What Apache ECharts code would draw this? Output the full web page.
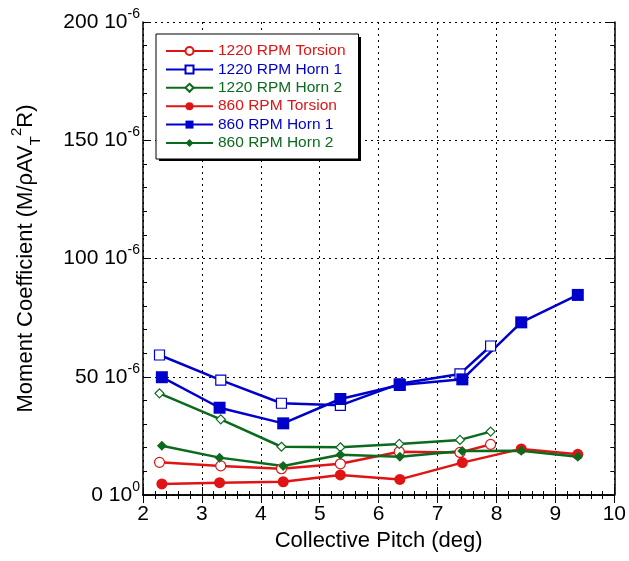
<!DOCTYPE html>
<html lang="en">

<head>
    <meta charset="UTF-8">
    <title>Moment Coefficient</title>
    <script type="text/javascript" src="https://cdn.jsdelivr.net/npm/echarts@6/dist/echarts.min.js"></script>
    <style>
        body {
            margin: 0;
            background: #fff;
        }

        .zhu {
            height: 561px;
            width: 629px;
        }
    </style>
</head>

<body>
    <div class="zhu"></div>
</body>
<script>
    // collective pitch (deg)
    let x1220 = [2.28, 3.32, 4.35, 5.35, 6.35, 7.38, 7.9]
    let x860 = [2.32, 3.3, 4.38, 5.35, 6.36, 7.42, 8.42, 9.38]

    // moment coefficient, units of 1e-6
    let torsion1220 = [13.8, 12.3, 11.1, 13.2, 18.3, 18.0, 21.4]
    let horn1_1220 = [59.2, 48.6, 38.8, 37.9, 47.0, 51.2, 63.0]
    let horn2_1220 = [43.0, 32.0, 20.4, 20.2, 21.6, 23.3, 26.8]
    let torsion860 = [4.7, 5.2, 5.6, 8.5, 6.6, 13.7, 19.5, 17.2]
    let horn1_860 = [49.8, 36.9, 30.3, 40.6, 46.5, 48.9, 73.0, 84.6]
    let horn2_860 = [20.8, 15.8, 12.3, 17.0, 16.2, 18.6, 18.7, 16.2]

    let yTicks = [0, 50, 100, 150, 200]
    let yExp = ['0', '-6', '-6', '-6', '-6']

    const RED = '#e01414'
    const BLUE = '#0000cc'
    const GREEN = '#0c6a1e'
    const FONT = 'Liberation Sans, Arial, sans-serif'

    function pairs(xs, ys) {
        return xs.map((x, i) => [x, ys[i]])
    }

    function mkSeries(name, xs, ys, color, symbol, size, hollow) {
        return {
            name: name,
            type: 'line',
            data: pairs(xs, ys),
            symbol: symbol,
            symbolSize: size,
            lineStyle: { color: color, width: 2.5 },
            itemStyle: {
                color: hollow ? '#fff' : color,
                borderColor: color,
                borderWidth: hollow ? 1.2 : 0
            }
        }
    }

    let mCharts = echarts.init(document.querySelector('.zhu'))

    let tickCommon = {
        axisLine: { show: true, lineStyle: { color: '#000', width: 1.5 } },
        axisTick: { show: true, inside: true, length: 8, lineStyle: { color: '#000', width: 1 } },
        minorTick: { show: true, splitNumber: 5, length: 4, lineStyle: { color: '#000', width: 1 } }
    }

    let option = {
        animation: false,
        backgroundColor: '#fff',
        grid: { left: 143, right: 12, top: 22, bottom: 66 },
        // solid drop shadow behind the legend box
        graphic: [{
            type: 'rect',
            left: 159,
            top: 37,
            shape: { width: 202, height: 124 },
            style: { fill: '#000' },
            z: 3
        }],
        legend: {
            z: 10,
            orient: 'vertical',
            left: 156,
            top: 34,
            padding: [9, 13, 8, 9],
            itemWidth: 47,
            itemHeight: 10,
            itemGap: 2.4,
            backgroundColor: '#fff',
            borderColor: '#000',
            borderWidth: 1,
            textStyle: { fontFamily: FONT, fontSize: 15.5 },
            data: [
                { name: '1220 RPM Torsion', textStyle: { color: RED } },
                { name: '1220 RPM Horn 1', textStyle: { color: BLUE } },
                { name: '1220 RPM Horn 2', textStyle: { color: GREEN } },
                { name: '860 RPM Torsion', textStyle: { color: RED } },
                { name: '860 RPM Horn 1', textStyle: { color: BLUE } },
                { name: '860 RPM Horn 2', textStyle: { color: GREEN } }
            ]
        },
        xAxis: [{
            type: 'value',
            min: 2,
            max: 10,
            interval: 1,
            name: 'Collective Pitch (deg)',
            nameLocation: 'middle',
            nameGap: 31,
            nameTextStyle: { fontFamily: FONT, fontSize: 22, color: '#000' },
            axisLabel: { fontFamily: FONT, fontSize: 21, color: '#000', margin: 9 },
            splitLine: { show: true, lineStyle: { color: '#000', type: [2, 4], width: 1 } },
            ...tickCommon
        }, {
            type: 'value',
            position: 'top',
            min: 2,
            max: 10,
            interval: 1,
            axisLabel: { show: false },
            splitLine: { show: false },
            ...tickCommon
        }],
        yAxis: [{
            type: 'value',
            min: 0,
            max: 200,
            interval: 50,
            name: '{b|Moment Coefficient (M/ρAV}{sub|T}{sup|2}{b|R)}',
            nameLocation: 'middle',
            nameGap: 100,
            nameRotate: 90,
            nameTextStyle: {
                fontFamily: FONT,
                color: '#000',
                rich: {
                    b: { fontFamily: FONT, fontSize: 22, lineHeight: 34, color: '#000' },
                    sub: { fontFamily: FONT, fontSize: 15, verticalAlign: 'bottom', color: '#000' },
                    sup: { fontFamily: FONT, fontSize: 15, verticalAlign: 'top', color: '#000' }
                }
            },
            axisLabel: {
                margin: 3,
                formatter: function (v) {
                    let i = yTicks.indexOf(v)
                    return '{b|' + v + ' 10}{s|' + yExp[i] + '}'
                },
                rich: {
                    b: { fontFamily: FONT, fontSize: 21, lineHeight: 30, color: '#000' },
                    s: { fontFamily: FONT, fontSize: 14, verticalAlign: 'top', color: '#000' }
                }
            },
            splitLine: { show: true, lineStyle: { color: '#000', type: [2, 4], width: 1 } },
            ...tickCommon
        }, {
            type: 'value',
            position: 'right',
            min: 0,
            max: 200,
            interval: 50,
            axisLabel: { show: false },
            splitLine: { show: false },
            ...tickCommon
        }],
        series: [
            mkSeries('1220 RPM Torsion', x1220, torsion1220, RED, 'circle', 10, true),
            mkSeries('1220 RPM Horn 1', x1220, horn1_1220, BLUE, 'rect', 10, true),
            mkSeries('1220 RPM Horn 2', x1220, horn2_1220, GREEN, 'diamond', 9, true),
            mkSeries('860 RPM Torsion', x860, torsion860, RED, 'circle', 11, false),
            mkSeries('860 RPM Horn 1', x860, horn1_860, BLUE, 'rect', 12, false),
            mkSeries('860 RPM Horn 2', x860, horn2_860, GREEN, 'diamond', 10, false)
        ]
    };
    mCharts.setOption(option)
</script>

</html>
